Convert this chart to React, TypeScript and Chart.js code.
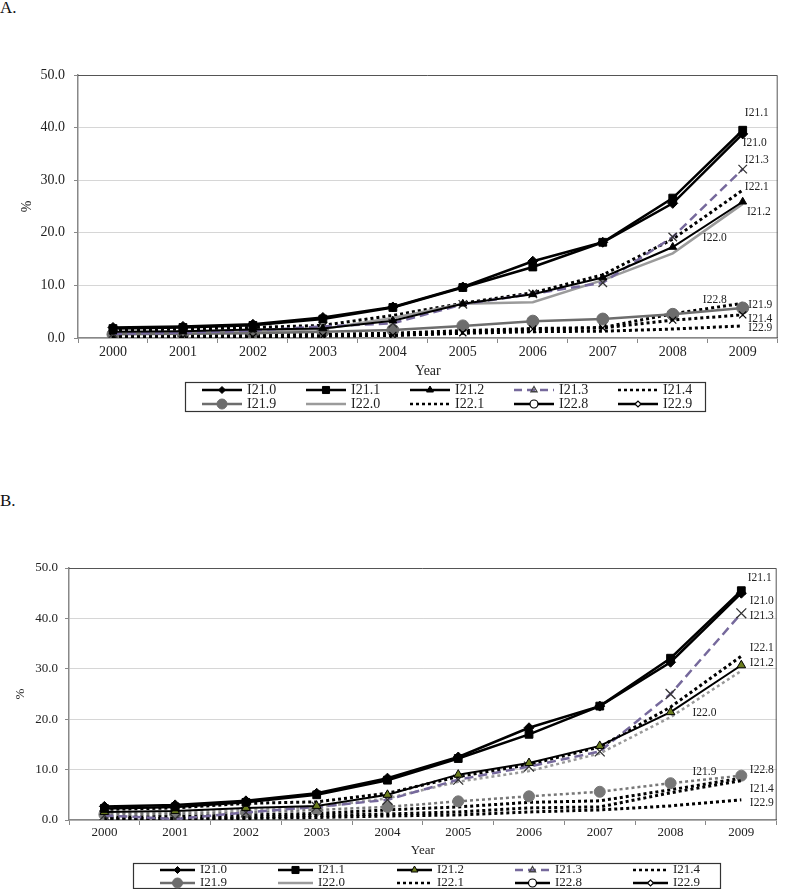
import React, { useEffect, useRef } from 'react';
import { Chart, registerables } from 'chart.js';
import { drawPoint } from 'chart.js/helpers';

Chart.register(...registerables);

const YEARS = ['2000', '2001', '2002', '2003', '2004', '2005', '2006', '2007', '2008', '2009'];
const SERIES = ['I21.0', 'I21.1', 'I21.2', 'I21.3', 'I21.4', 'I21.9', 'I22.0', 'I22.1', 'I22.8', 'I22.9'];
const Y_TICKS = [0, 10, 20, 30, 40, 50];

// Panel A values (%)
const A_I21_0 = [2.0, 2.2, 2.6, 3.9, 5.9, 9.7, 14.6, 18.2, 25.6, 38.8];
const A_I21_1 = [1.8, 2.0, 2.4, 3.6, 5.8, 9.6, 13.5, 18.2, 26.6, 39.5];
const A_I21_2 = [1.2, 1.3, 1.6, 1.8, 3.3, 6.5, 8.3, 11.5, 17.3, 25.9];
const A_I21_3 = [0.8, 1.0, 1.4, 2.2, 2.8, 6.4, 8.4, 10.5, 19.2, 32.1];
const A_I21_4 = [0.2, 0.1, 0.2, 0.4, 0.5, 1.0, 1.7, 1.9, 3.4, 4.4];
const A_I21_9 = [0.7, 0.8, 0.9, 1.2, 1.5, 2.3, 3.2, 3.6, 4.5, 5.7];
const A_I22_0 = [1.0, 1.0, 1.2, 1.7, 3.8, 6.5, 6.8, 11.0, 16.1, 25.5];
const A_I22_1 = [1.5, 1.7, 2.0, 2.4, 4.3, 6.6, 8.6, 12.0, 18.8, 28.1];
const A_I22_8 = [0.5, 0.5, 0.6, 0.7, 0.9, 1.4, 1.8, 2.0, 4.6, 6.6];
const A_I22_9 = [0.3, 0.3, 0.3, 0.4, 0.5, 0.9, 1.2, 1.3, 1.7, 2.3];

// Panel B values (%)
const B_I21_0 = [2.7, 3.0, 3.8, 5.3, 8.3, 12.5, 18.3, 22.6, 31.3, 45.0];
const B_I21_1 = [2.3, 2.6, 3.5, 5.0, 7.9, 12.2, 17.0, 22.6, 32.1, 45.5];
const B_I21_2 = [1.6, 1.8, 2.4, 2.8, 5.0, 9.0, 11.3, 14.7, 21.4, 30.7];
const B_I21_3 = [0.9, 0.2, 1.5, 2.6, 4.0, 8.0, 10.6, 13.6, 25.0, 41.0];
const B_I21_4 = [0.3, 0.3, 0.5, 0.9, 1.2, 1.6, 2.4, 2.6, 5.4, 7.8];
const B_I21_9 = [1.1, 1.2, 1.5, 2.0, 2.6, 3.7, 4.7, 5.6, 7.3, 8.8];
const B_I22_0 = [1.4, 1.6, 2.0, 2.5, 4.3, 7.6, 9.7, 13.2, 20.4, 29.6];
const B_I22_1 = [2.1, 2.4, 3.3, 3.6, 5.3, 8.6, 11.0, 14.5, 22.4, 32.5];
const B_I22_8 = [0.6, 0.7, 1.0, 1.3, 2.0, 2.6, 3.5, 3.8, 6.0, 8.3];
const B_I22_9 = [0.2, 0.2, 0.3, 0.5, 0.8, 1.0, 1.6, 2.0, 2.8, 4.0];

// End labels: [text, category index, value]
const A_LABELS: [string, number, number][] = [
  ['I21.1', 9.03, 42.8], ['I21.0', 9.0, 37.1], ['I21.3', 9.03, 33.8], ['I22.1', 9.03, 28.7],
  ['I21.2', 9.06, 24.0], ['I22.0', 8.43, 19.0], ['I22.8', 8.43, 7.2], ['I21.9', 9.08, 6.3],
  ['I21.4', 9.08, 3.6], ['I22.9', 9.08, 1.9],
];
const B_LABELS: [string, number, number][] = [
  ['I21.1', 9.09, 48.0], ['I21.0', 9.12, 43.5], ['I21.3', 9.12, 40.5], ['I22.1', 9.12, 34.1],
  ['I21.2', 9.12, 31.2], ['I22.0', 8.31, 21.2], ['I21.9', 8.31, 9.5], ['I22.8', 9.12, 9.9],
  ['I21.4', 9.12, 6.2], ['I22.9', 9.12, 3.4],
];

const FONT = '"Liberation Serif", "Times New Roman", serif';
const DOT = [3, 3];

type St = { c: string; w: number; d: number[]; p?: string; r?: number; pf?: string; ps?: string; pw?: number };

const A_STYLES: St[] = [
  { c: '#000', w: 2.5, d: [], p: 'rectRot', r: 5, pf: '#000', ps: '#000', pw: 1 },
  { c: '#000', w: 2.5, d: [], p: 'rect', r: 5.5, pf: '#000', ps: '#000', pw: 1 },
  { c: '#000', w: 2, d: [], p: 'triangle', r: 4.5, pf: '#000', ps: '#000', pw: 1 },
  { c: '#76699c', w: 2.5, d: [9, 5], p: 'crossRot', r: 6, pf: '#333', ps: '#333', pw: 1.3 },
  { c: '#000', w: 3, d: DOT, p: 'crossRot', r: 5, pf: '#000', ps: '#000', pw: 1.2 },
  { c: '#6d6d6d', w: 2.5, d: [], p: 'circle', r: 6, pf: '#6d6d6d', ps: '#6d6d6d', pw: 1 },
  { c: '#9b9b9b', w: 2.5, d: [] },
  { c: '#000', w: 3, d: DOT },
  { c: '#000', w: 3, d: DOT },
  { c: '#000', w: 3, d: DOT },
];
const B_STYLES: St[] = [
  { c: '#000', w: 2.5, d: [], p: 'rectRot', r: 5, pf: '#000', ps: '#000', pw: 1 },
  { c: '#000', w: 2.5, d: [], p: 'rect', r: 5.5, pf: '#000', ps: '#000', pw: 1 },
  { c: '#000', w: 2, d: [], p: 'triangle', r: 5, pf: '#6b7d1e', ps: '#000', pw: 1 },
  { c: '#76699c', w: 2.5, d: [9, 5], p: 'crossRot', r: 7, pf: '#333', ps: '#333', pw: 1.3 },
  { c: '#000', w: 3, d: DOT },
  { c: '#777', w: 2.5, d: DOT, p: 'circle', r: 5.5, pf: '#777', ps: '#777', pw: 1 },
  { c: '#999', w: 2.5, d: DOT },
  { c: '#000', w: 3, d: DOT },
  { c: '#000', w: 3, d: DOT },
  { c: '#000', w: 3, d: DOT },
];

function legendStyles(b: boolean): St[] {
  const tri = b ? '#6b7d1e' : '#000';
  return [
    { c: '#000', w: 2.5, d: [], p: 'rectRot', r: 3.5, pf: '#000', ps: '#000', pw: 1 },
    { c: '#000', w: 2.5, d: [], p: 'rect', r: 5, pf: '#000', ps: '#000', pw: 1 },
    { c: '#000', w: 2.5, d: [], p: 'triangle', r: 4, pf: tri, ps: '#000', pw: 1 },
    { c: '#76699c', w: 2.5, d: [8, 5], p: 'triangle', r: 3.5, pf: 'rgba(0,0,0,0)', ps: '#444', pw: 1.3 },
    { c: '#000', w: 2.5, d: DOT },
    { c: '#6d6d6d', w: 2.5, d: [], p: 'circle', r: 5, pf: '#6d6d6d', ps: '#6d6d6d', pw: 1 },
    { c: '#9b9b9b', w: 2.5, d: [] },
    { c: '#000', w: 2.5, d: DOT },
    { c: '#000', w: 2.5, d: [], p: 'circle', r: 4, pf: '#fff', ps: '#000', pw: 1.2 },
    { c: '#000', w: 2.5, d: [], p: 'rectRot', r: 3, pf: '#fff', ps: '#000', pw: 1.2 },
  ];
}

type Panel = {
  data: number[][];
  styles: St[];
  labels: [string, number, number][];
  width: number;
  height: number;
  padding: { left: number; right: number; top: number; bottom: number };
  yW: number;
  xH: number;
  tickSize: number;
  yPad: number;
  xPad: number;
  legend: { x: number; y: number; w: number; h: number; cols: number[]; rows: number[]; len: number; gap: number; size: number };
  legendB: boolean;
};

function buildConfig(p: Panel): any {
  const datasets = SERIES.map((name, i) => {
    const s = p.styles[i];
    return {
      label: name,
      data: p.data[i],
      borderColor: s.c,
      borderWidth: s.w,
      borderDash: s.d,
      borderCapStyle: 'butt',
      tension: 0,
      fill: false,
      pointStyle: s.p || 'circle',
      pointRadius: s.p ? s.r : 0,
      pointBackgroundColor: s.pf || s.c,
      pointBorderColor: s.ps || s.c,
      pointBorderWidth: s.pw || 1,
    };
  });
  const lstyles = legendStyles(p.legendB);
  const framePlugin = {
    id: 'frame',
    beforeDatasetsDraw(chart: any) {
      const { ctx, chartArea } = chart;
      ctx.save();
      ctx.strokeStyle = '#555';
      ctx.lineWidth = 1;
      ctx.beginPath();
      ctx.moveTo(chartArea.left, chartArea.top + 0.5);
      ctx.lineTo(chartArea.right - 0.5, chartArea.top + 0.5);
      ctx.lineTo(chartArea.right - 0.5, chartArea.bottom);
      ctx.stroke();
      ctx.restore();
    },
  };
  const labelPlugin = {
    id: 'endLabels',
    afterDatasetsDraw(chart: any) {
      const { ctx } = chart;
      const xs = chart.scales.x;
      const ys = chart.scales.y;
      ctx.save();
      ctx.font = `11.5px ${FONT}`;
      ctx.fillStyle = '#222';
      ctx.textAlign = 'left';
      ctx.textBaseline = 'middle';
      for (const [t, idx, v] of p.labels) {
        ctx.fillText(t, xs.getPixelForValue(idx), ys.getPixelForValue(v));
      }
      ctx.restore();
    },
  };
  const legendPlugin = {
    id: 'lineLegend',
    afterDraw(chart: any) {
      const { ctx } = chart;
      const L = p.legend;
      ctx.save();
      ctx.strokeStyle = '#333';
      ctx.lineWidth = 1.2;
      ctx.strokeRect(L.x + 0.5, L.y + 0.5, L.w, L.h);
      SERIES.forEach((name, i) => {
        const s = lstyles[i];
        const x0 = L.cols[i % 5];
        const y0 = L.rows[Math.floor(i / 5)];
        ctx.save();
        ctx.strokeStyle = s.c;
        ctx.lineWidth = s.w;
        ctx.setLineDash(s.d);
        ctx.beginPath();
        ctx.moveTo(x0, y0);
        ctx.lineTo(x0 + L.len, y0);
        ctx.stroke();
        ctx.setLineDash([]);
        if (s.p) {
          ctx.fillStyle = s.pf;
          ctx.strokeStyle = s.ps;
          ctx.lineWidth = s.pw;
          drawPoint(ctx, { pointStyle: s.p, radius: s.r, rotation: 0, borderWidth: s.pw } as any, x0 + L.len / 2, y0);
        }
        ctx.restore();
        ctx.fillStyle = '#222';
        ctx.font = `${L.size}px ${FONT}`;
        ctx.textAlign = 'left';
        ctx.textBaseline = 'middle';
        ctx.fillText(name, x0 + L.len + L.gap, y0);
      });
      ctx.restore();
    },
  };
  return {
    type: 'line',
    data: { labels: YEARS, datasets },
    plugins: [framePlugin, labelPlugin, legendPlugin],
    options: {
      responsive: false,
      maintainAspectRatio: false,
      animation: false,
      devicePixelRatio: 1,
      events: [],
      layout: { padding: p.padding },
      plugins: { legend: { display: false }, tooltip: { enabled: false }, title: { display: false } },
      scales: {
        x: {
          type: 'category',
          offset: true,
          grid: { display: true, drawOnChartArea: false, drawTicks: true, tickLength: 5, offset: true, tickColor: '#888', color: '#888' },
          border: { display: true, color: '#888', width: 1.5 },
          ticks: { font: { family: FONT, size: p.tickSize }, color: '#222', padding: p.xPad, maxRotation: 0, autoSkip: false },
          title: { display: true, text: 'Year', font: { family: FONT, size: p.tickSize }, color: '#222', padding: 0 },
          afterFit: (s: any) => { s.height = p.xH; },
        },
        y: {
          min: 0,
          max: 50,
          afterBuildTicks: (s: any) => { s.ticks = Y_TICKS.map((v) => ({ value: v })); },
          ticks: { callback: (v: any) => Number(v).toFixed(1), font: { family: FONT, size: p.tickSize }, color: '#222', padding: p.yPad },
          grid: { color: '#d6d6d6', tickColor: '#888', tickLength: 4, lineWidth: 1 },
          border: { display: true, color: '#888', width: 1.5 },
          title: { display: true, text: '%', font: { family: FONT, size: p.tickSize }, color: '#222', padding: { top: 1, bottom: 0 } },
          afterFit: (s: any) => { s.width = p.yW; },
        },
      },
    },
  };
}

const PANEL_A: Panel = {
  data: [A_I21_0, A_I21_1, A_I21_2, A_I21_3, A_I21_4, A_I21_9, A_I22_0, A_I22_1, A_I22_8, A_I22_9],
  styles: A_STYLES,
  labels: A_LABELS,
  width: 785,
  height: 420,
  padding: { left: 18, right: 2, top: 75, bottom: 40 },
  yW: 60,
  xH: 42,
  tickSize: 14,
  yPad: 9,
  xPad: 1,
  legend: { x: 185, y: 382, w: 520, h: 29, cols: [202, 306, 410, 514, 618], rows: [390, 404], len: 40, gap: 5, size: 14 },
  legendB: false,
};

const PANEL_B: Panel = {
  data: [B_I21_0, B_I21_1, B_I21_2, B_I21_3, B_I21_4, B_I21_9, B_I22_0, B_I22_1, B_I22_8, B_I22_9],
  styles: B_STYLES,
  labels: B_LABELS,
  width: 785,
  height: 449,
  padding: { left: 12, right: 4, top: 128, bottom: 31 },
  yW: 57,
  xH: 38,
  tickSize: 13,
  yPad: 7,
  xPad: 0,
  legend: { x: 133, y: 423, w: 587, h: 25, cols: [160, 278, 397, 515, 633], rows: [430, 443], len: 35, gap: 5, size: 13 },
  legendB: true,
};

function ChartCanvas({ panel, top }: { panel: Panel; top: number }) {
  const ref = useRef<HTMLCanvasElement>(null);
  useEffect(() => {
    const chart = new Chart(ref.current as HTMLCanvasElement, buildConfig(panel));
    return () => chart.destroy();
  }, []);
  return (
    <canvas
      ref={ref}
      width={panel.width}
      height={panel.height}
      style={{ position: 'absolute', left: 0, top, width: panel.width, height: panel.height }}
    />
  );
}

export default function App() {
  const lbl: React.CSSProperties = { position: 'absolute', left: 0, fontFamily: FONT, fontSize: 17, color: '#111', lineHeight: 'normal' };
  return (
    <div style={{ position: 'absolute', left: 0, top: 0, width: 785, height: 889, background: '#fff', overflow: 'hidden' }}>
      <div style={{ ...lbl, top: -2 }}>A.</div>
      <ChartCanvas panel={PANEL_A} top={0} />
      <div style={{ ...lbl, top: 491 }}>B.</div>
      <ChartCanvas panel={PANEL_B} top={440} />
    </div>
  );
}
